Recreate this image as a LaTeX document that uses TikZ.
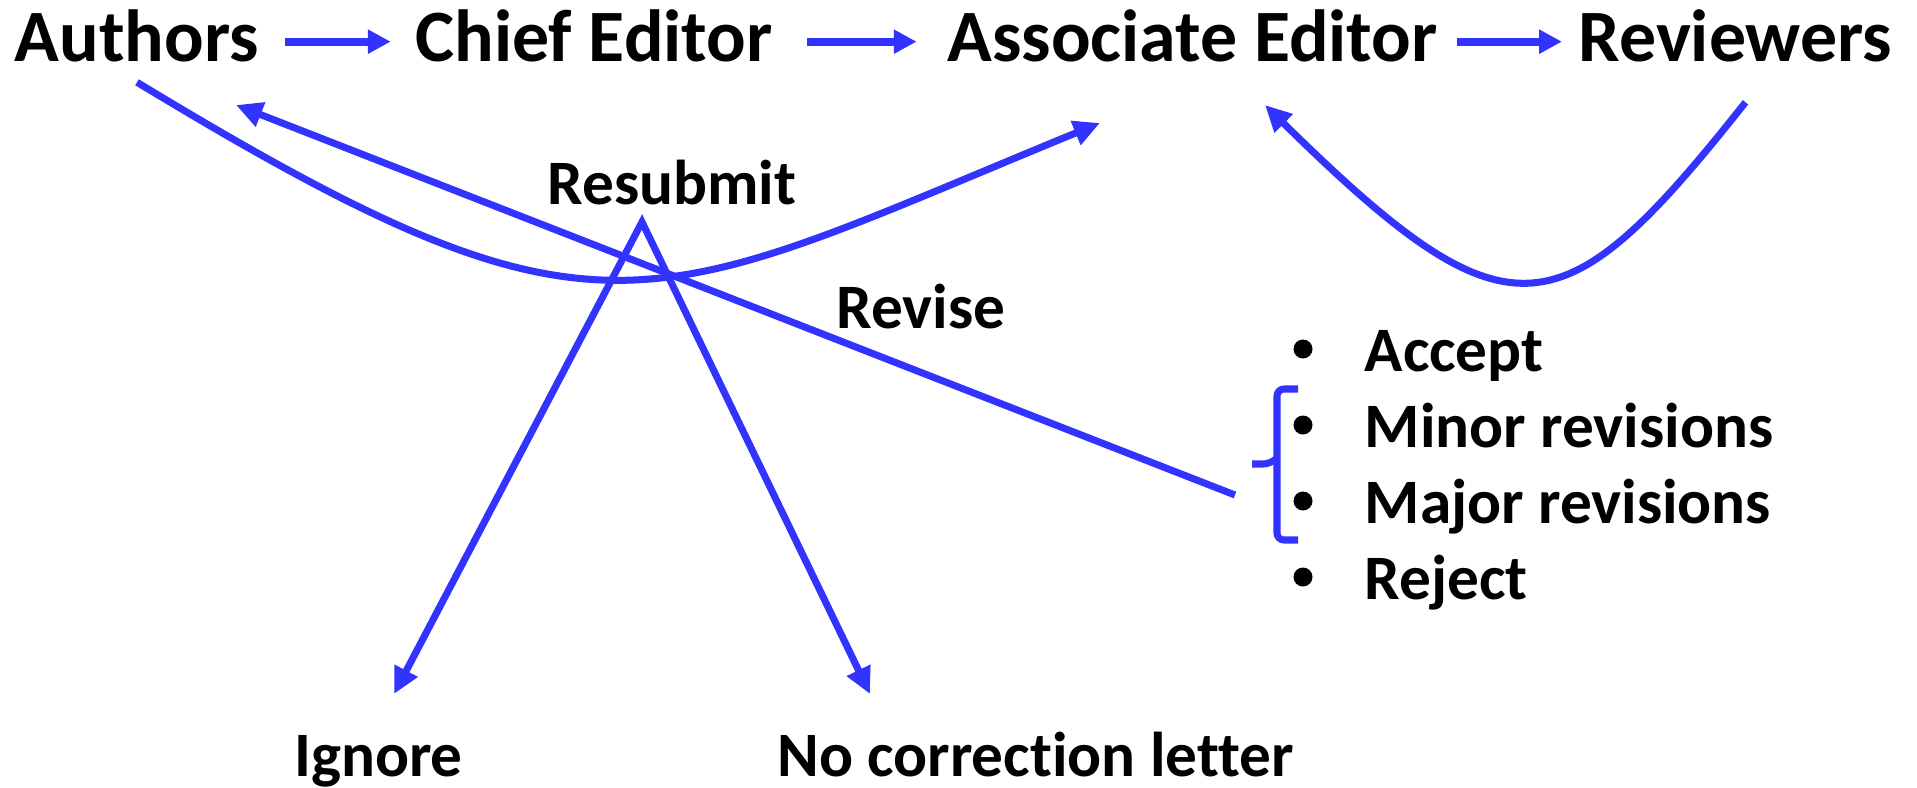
\documentclass[tikz,border=0pt]{standalone}
\usepackage{fontspec}
\setmainfont{Carlito}[Ligatures=NoCommon]
\usetikzlibrary{arrows.meta}
\definecolor{flowblue}{RGB}{51,51,255}

\begin{document}
\begin{tikzpicture}[x=0.01cm,y=-0.01cm,
    role/.style={font=\fontsize{21}{25}\selectfont\bfseries, anchor=base,
      inner sep=0pt, text height=14pt, text depth=3pt},
    lbl/.style={font=\fontsize{18}{22}\selectfont\bfseries, anchor=base, inner sep=0pt},
    item/.style={lbl, anchor=base west},
    dot/.style={circle, fill=black, inner sep=0pt, minimum size=0.19cm},
    flow/.style={draw=flowblue, line width=2pt, -{Triangle[length=7.5pt,width=7pt]}},
    pass/.style={flow, line width=2.3pt, -{Triangle[length=6.5pt,width=6.5pt]}}]

  \useasboundingbox (0,0) rectangle (1917,787);

  % the chain
  \node[role] (authors)   at (137,61)    {Authors};
  \node[role] (chief)     at (594,61)    {Chief Editor};
  \node[role] (assoc)     at (1192.5,61) {Associate Editor};
  \node[role] (reviewers) at (1735.5,61) {Reviewers};

  \draw[pass, shorten <=0.25cm, shorten >=0.24cm] (authors) -- (chief);
  \draw[pass, shorten <=0.34cm, shorten >=0.30cm] (chief) -- (assoc);
  \draw[pass, shorten <=0.19cm, shorten >=0.16cm] (assoc) -- (reviewers);

  % labels
  \node[lbl] (resubmit) at (672,204)    {Resubmit};
  \node[lbl] (revise)   at (921,328)    {Revise};
  \node[lbl] (ignore)   at (378.5,776)  {Ignore};
  \node[lbl] (noletter) at (1035.5,776) {No correction letter};

  % decisions
  \node[dot] (b1) at (1303,349) {};
  \node[dot] (b2) at (1303,425) {};
  \node[dot] (b3) at (1303,501) {};
  \node[dot] (b4) at (1303,577) {};
  \node[item] (accept) at (1364,371) {Accept};
  \node[item] (minor)  at (1364,447) {Minor revisions};
  \node[item] (major)  at (1364,523) {Major revisions};
  \node[item] (reject) at (1364,599) {Reject};

  \coordinate (aeA)  at (1100,123);
  \coordinate (aeB)  at (1265,105);
  \coordinate (auA)  at (236,105);
  \coordinate (revs) at (1235,495);
  \coordinate (apex) at (642,222);
  \coordinate (igA)  at (394,694);
  \coordinate (ncA)  at (870,694);

  \draw[flow] ([yshift=-0.1cm]authors.south) .. controls (605,366) and (644,310) .. (aeA);
  \draw[flow] ([xshift=0.1cm,yshift=-0.3cm]reviewers.south) .. controls (1562,334) and (1510,346) .. (aeB);
  \draw[flow] (revs) -- (auA);
  \draw[flow, line join=miter, {Triangle[length=7.5pt,width=7pt]}-{Triangle[length=7.5pt,width=7pt]}]
    (igA) -- (apex) -- (ncA);

  % bracket
  \draw[flowblue, line width=2pt, rounded corners=2pt]
    (1298,389) -- (1277,389) -- (1277,540) -- (1298,540);
  \draw[flowblue, line width=2pt, rounded corners=2pt]
    (1252,464) -- (1270,464) -- (1277,458);
\end{tikzpicture}
\end{document}
